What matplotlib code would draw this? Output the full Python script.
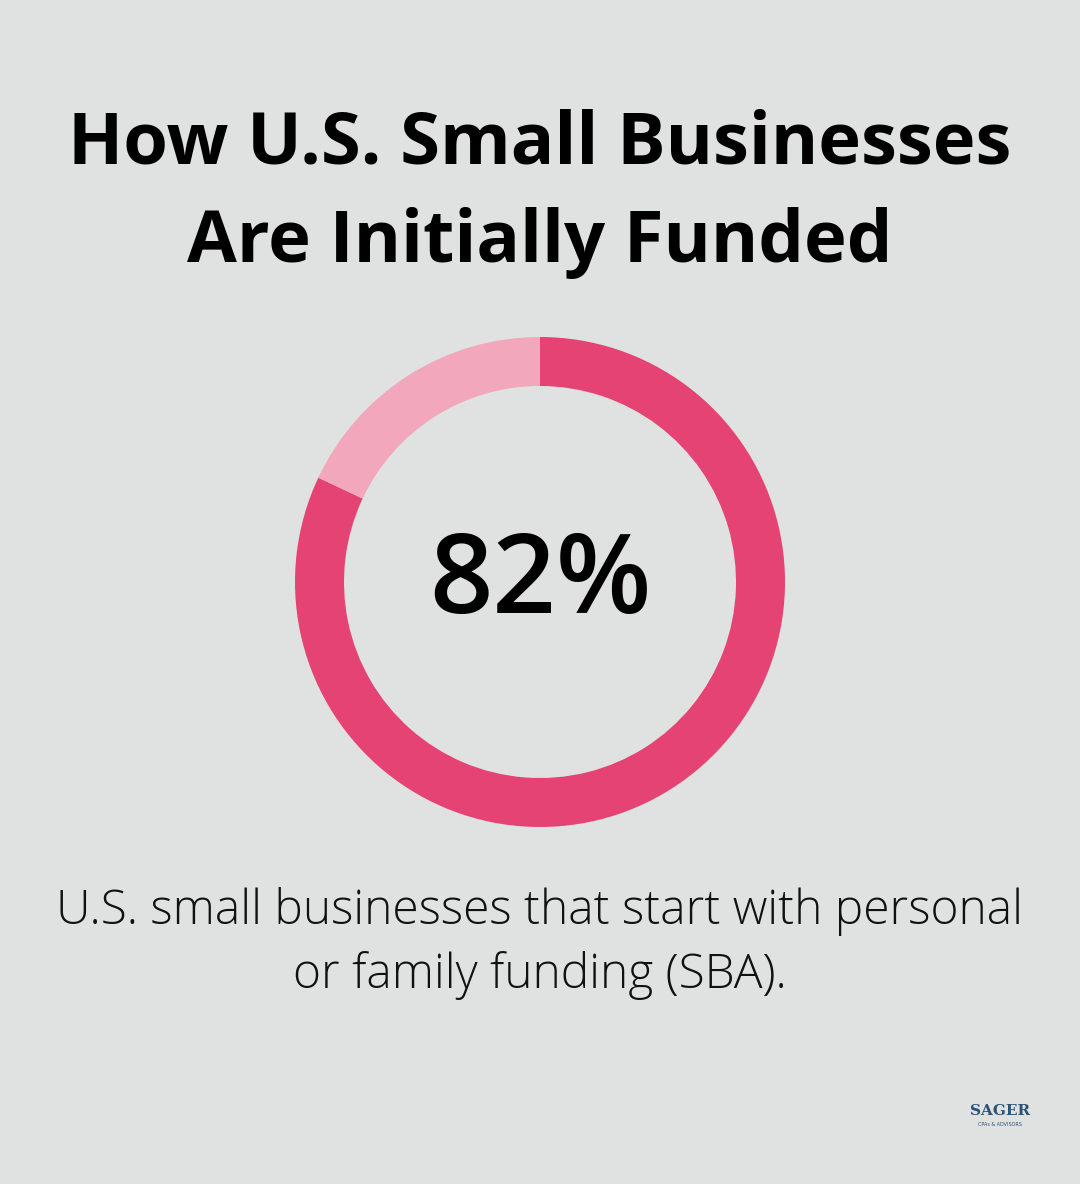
import matplotlib
matplotlib.use("Agg")
import matplotlib.pyplot as plt

values = [82, 18]
labels = ["Personal or family funding", "Other"]
colors = ["#E54373", "#F2A7BD"]
bg = "#E0E2E1"

fig = plt.figure(figsize=(10.8, 11.84), dpi=100, facecolor=bg)
W, H = 1080, 1184
ax = fig.add_axes([(540-245)/W, 1-(582+245)/H, 490/W, 490/H])
ax.set_facecolor(bg)
ax.pie(values, colors=colors, startangle=90, counterclock=False,
       wedgeprops=dict(width=49/245, edgecolor="none"), radius=1)
ax.set_xlim(-1, 1); ax.set_ylim(-1, 1); ax.set_aspect("equal"); ax.axis("off")
ax.text(0, -0.01, f"{values[0]}%", ha="center", va="center", fontsize=80,
        family="Open Sans", fontweight="semibold", color="#000000")

fig.text(0.5, 1-145/H, "How U.S. Small Businesses", ha="center", va="center",
         fontsize=52, fontweight="bold", family="Open Sans", color="#000")
fig.text(0.5, 1-243/H, "Are Initially Funded", ha="center", va="center",
         fontsize=52, fontweight="bold", family="Open Sans", color="#000")
fig.text(0.5, 1-911/H, "U.S. small businesses that start with personal", ha="center",
         va="center", fontsize=34.5, fontweight="light", family="Open Sans", color="#111")
fig.text(0.5, 1-976/H, "or family funding (SBA).", ha="center",
         va="center", fontsize=34.5, fontweight="light", family="Open Sans", color="#111")
fig.text(1000/W, 1-1111/H, "SAGER", ha="center", va="center", fontsize=11,
         fontweight="bold", family="DejaVu Serif", color="#2A5378")
fig.text(1000/W, 1-1125/H, "CPAs & ADVISORS", ha="center", va="center", fontsize=3.5,
         family="DejaVu Sans", color="#2A5378")
fig.savefig("out.png", dpi=100, facecolor=bg)
